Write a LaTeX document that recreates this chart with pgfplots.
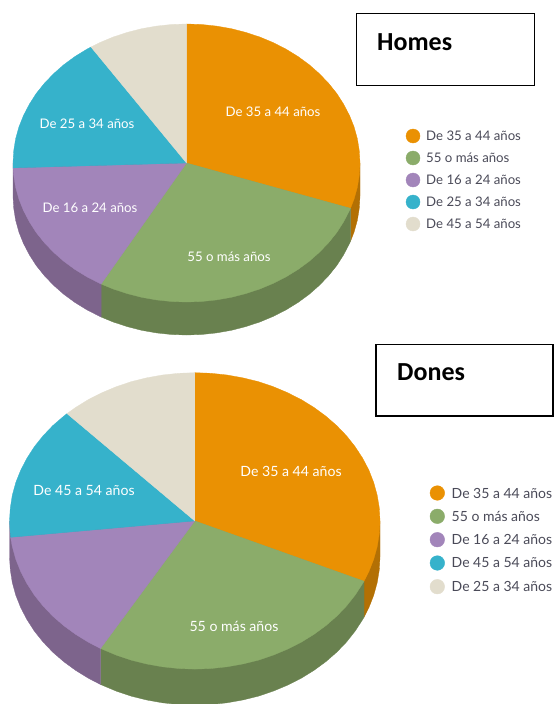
\documentclass[border=0pt]{standalone}
\usepackage{fontspec}
\setmainfont{Lato}
\newfontfamily\titlefont{Carlito}
\usepackage{pgfplots}
\pgfplotsset{compat=1.18}
\definecolor{naranja}{HTML}{EA9103}
\definecolor{verde}{HTML}{8BAC6A}
\definecolor{lila}{HTML}{A285BA}
\definecolor{cian}{HTML}{36B2CB}
\definecolor{beis}{HTML}{E2DDCD}
\definecolor{naranjaos}{HTML}{B37004}
\definecolor{verdeos}{HTML}{69814F}
\definecolor{lilaos}{HTML}{7D648C}
\definecolor{leyenda}{HTML}{4A4A58}

\newcommand{\etq}[4]{\node[text=white,font=\fontsize{#1}{14}\selectfont,inner sep=0pt] at (axis cs:#2,#3) {#4};}
\newcommand{\leytxt}[4]{\node[text=leyenda,anchor=west,font=\fontsize{#1}{14}\selectfont,inner sep=0pt] at (axis cs:#2,#3) {#4};}

\begin{document}
\begin{tikzpicture}
\begin{axis}[
  hide axis,
  scale only axis,
  width=554pt, height=704pt,
  xmin=0, xmax=554, ymin=0, ymax=704,
  y dir=reverse,
]
% hidden axis adds nothing to the page size, so keep the corners in
\path (axis cs:0,0) rectangle (axis cs:554,704);
% Homes: side walls
\addplot[fill=naranjaos,draw=naranjaos,line width=0.3pt] coordinates {(360,196)(359.3,208.1)(357.4,220.1)(354.1,232)(350.5,241.3)(350.5,208.3)(186.5,163)(360,163)} --cycle;
\addplot[fill=verdeos,draw=verdeos,line width=0.3pt] coordinates {(350.5,241.3)(349.5,243.5)(343.7,254.7)(336.8,265.5)(328.6,275.7)(319.4,285.3)(309.2,294.3)(298,302.5)(286,309.9)(273.2,316.4)(259.8,322)(245.8,326.6)(231.4,330.3)(216.6,332.9)(201.6,334.5)(186.5,335)(171.4,334.5)(156.4,332.9)(141.6,330.3)(127.2,326.6)(113.2,322)(101.1,317)(101.1,284)(186.5,163)(350.5,208.3)} --cycle;
\addplot[fill=lilaos,draw=lilaos,line width=0.3pt] coordinates {(101.1,317)(99.8,316.4)(87,309.9)(75,302.5)(63.8,294.3)(53.6,285.3)(44.4,275.7)(36.2,265.5)(29.3,254.7)(23.5,243.5)(18.9,232)(15.6,220.1)(13.7,208.1)(13,196)(13,163)(186.5,163)(101.1,284)} --cycle;
% Homes: top face
\addplot[fill=naranja,draw=naranja,line width=0.3pt] coordinates {(186.5,163)(186.5,24)(201.6,24.5)(216.6,26.1)(231.4,28.7)(245.8,32.4)(259.8,37)(273.2,42.6)(286,49.1)(298,56.5)(309.2,64.7)(319.4,73.7)(328.6,83.3)(336.8,93.5)(343.7,104.3)(349.5,115.5)(354.1,127)(357.4,138.9)(359.3,150.9)(360,163)(359.3,175.1)(357.4,187.1)(354.1,199)(350.5,208.3)} --cycle;
\addplot[fill=verde,draw=verde,line width=0.3pt] coordinates {(186.5,163)(350.5,208.3)(349.5,210.5)(343.7,221.7)(336.8,232.5)(328.6,242.7)(319.4,252.3)(309.2,261.3)(298,269.5)(286,276.9)(273.2,283.4)(259.8,289)(245.8,293.6)(231.4,297.3)(216.6,299.9)(201.6,301.5)(186.5,302)(171.4,301.5)(156.4,299.9)(141.6,297.3)(127.2,293.6)(113.2,289)(101.1,284)} --cycle;
\addplot[fill=lila,draw=lila,line width=0.3pt] coordinates {(186.5,163)(101.1,284)(99.8,283.4)(87,276.9)(75,269.5)(63.8,261.3)(53.6,252.3)(44.4,242.7)(36.2,232.5)(29.3,221.7)(23.5,210.5)(18.9,199)(15.6,187.1)(13.7,175.1)(13.1,167.9)} --cycle;
\addplot[fill=cian,draw=cian,line width=0.3pt] coordinates {(186.5,163)(13.1,167.9)(13,163)(13.7,150.9)(15.6,138.9)(18.9,127)(23.5,115.5)(29.3,104.3)(36.2,93.5)(44.4,83.3)(53.6,73.7)(63.8,64.7)(75,56.5)(87,49.1)(91,47)} --cycle;
\addplot[fill=beis,draw=beis,line width=0.3pt] coordinates {(186.5,163)(91,47)(99.8,42.6)(113.2,37)(127.2,32.4)(141.6,28.7)(156.4,26.1)(171.4,24.5)(186.5,24)} --cycle;

% Dones: side walls
\addplot[fill=naranjaos,draw=naranjaos,line width=0.3pt] coordinates {(380,556.9)(379.3,569.8)(377.2,582.6)(373.7,595.3)(368.9,607.6)(364,617.2)(364,581.2)(194.75,520.9)(380,520.9)} --cycle;
\addplot[fill=verdeos,draw=verdeos,line width=0.3pt] coordinates {(364,617.2)(362.7,619.5)(355.2,631)(346.6,641.9)(336.7,652.2)(325.8,661.7)(313.9,670.4)(301.1,678.3)(287.4,685.2)(273.1,691.2)(258.2,696.2)(242.7,700)(227,702.8)(211,704.5)(194.8,705.1)(178.6,704.5)(162.5,702.8)(146.8,700)(131.4,696.2)(116.5,691.2)(102.2,685.2)(100.5,684.5)(100.5,648.5)(194.75,520.9)(364,581.2)} --cycle;
\addplot[fill=lilaos,draw=lilaos,line width=0.3pt] coordinates {(100.5,684.5)(88.5,678.3)(75.7,670.4)(63.8,661.7)(52.8,652.2)(43,641.9)(34.3,631)(26.9,619.5)(20.7,607.6)(15.8,595.3)(12.3,582.6)(10.3,569.8)(9.5,556.9)(9.5,520.9)(194.75,520.9)(100.5,648.5)} --cycle;
% Dones: top face
\addplot[fill=naranja,draw=naranja,line width=0.3pt] coordinates {(194.75,520.9)(194.8,372.7)(211,373.3)(227,375)(242.7,377.8)(258.2,381.6)(273.1,386.6)(287.4,392.6)(301.1,399.5)(313.9,407.4)(325.8,416.1)(336.7,425.6)(346.6,435.9)(355.2,446.8)(362.7,458.3)(368.9,470.2)(373.7,482.5)(377.2,495.2)(379.3,508)(380,520.9)(379.3,533.8)(377.2,546.6)(373.7,559.3)(368.9,571.6)(364,581.2)} --cycle;
\addplot[fill=verde,draw=verde,line width=0.3pt] coordinates {(194.75,520.9)(364,581.2)(362.7,583.5)(355.2,595)(346.6,605.9)(336.7,616.2)(325.8,625.7)(313.9,634.4)(301.1,642.3)(287.4,649.2)(273.1,655.2)(258.2,660.2)(242.7,664)(227,666.8)(211,668.5)(194.8,669.1)(178.6,668.5)(162.5,666.8)(146.8,664)(131.4,660.2)(116.5,655.2)(102.2,649.2)(100.5,648.5)} --cycle;
\addplot[fill=lila,draw=lila,line width=0.3pt] coordinates {(194.75,520.9)(100.5,648.5)(88.5,642.3)(75.7,634.4)(63.8,625.7)(52.8,616.2)(43,605.9)(34.3,595)(26.9,583.5)(20.7,571.6)(15.8,559.3)(12.3,546.6)(10.6,537.3)} --cycle;
\addplot[fill=cian,draw=cian,line width=0.3pt] coordinates {(194.75,520.9)(10.6,537.3)(10.3,533.8)(9.5,520.9)(10.3,508)(12.3,495.2)(15.8,482.5)(20.7,470.2)(26.9,458.3)(34.3,446.8)(43,435.9)(52.8,425.6)(63.8,416.1)(67,413.6)} --cycle;
\addplot[fill=beis,draw=beis,line width=0.3pt] coordinates {(194.75,520.9)(67,413.6)(75.7,407.4)(88.5,399.5)(102.2,392.6)(116.5,386.6)(131.4,381.6)(146.8,377.8)(162.5,375)(178.6,373.3)(194.8,372.7)} --cycle;

% title boxes
\addplot[draw=black,line width=1.6pt] coordinates {(356.5,13.5)(534.5,13.5)(534.5,85.5)(356.5,85.5)} --cycle;
\addplot[draw=black,line width=1.6pt] coordinates {(375.8,344.5)(553,344.5)(553,415.8)(375.8,415.8)} --cycle;
\node[anchor=base west,inner sep=0pt,font=\titlefont\bfseries\fontsize{26}{28}\selectfont] at (axis cs:377,50.5) {Homes};
\node[anchor=base west,inner sep=0pt,font=\titlefont\bfseries\fontsize{26}{28}\selectfont] at (axis cs:397,380) {Dones};

% legend dots
\addplot[only marks,mark=*,mark size=7,color=naranja] coordinates {(413,136)};
\addplot[only marks,mark=*,mark size=7,color=verde] coordinates {(413,158)};
\addplot[only marks,mark=*,mark size=7,color=lila] coordinates {(413,180)};
\addplot[only marks,mark=*,mark size=7,color=cian] coordinates {(413,202)};
\addplot[only marks,mark=*,mark size=7,color=beis] coordinates {(413,224)};
\addplot[only marks,mark=*,mark size=7.3,color=naranja] coordinates {(437.3,493)};
\addplot[only marks,mark=*,mark size=7.3,color=verde] coordinates {(437.3,516.3)};
\addplot[only marks,mark=*,mark size=7.3,color=lila] coordinates {(437.3,539.7)};
\addplot[only marks,mark=*,mark size=7.3,color=cian] coordinates {(437.3,563)};
\addplot[only marks,mark=*,mark size=7.3,color=beis] coordinates {(437.3,586.7)};

\leytxt{13.2}{426}{136}{De 35 a 44 años}
\leytxt{13.2}{426}{158}{55 o más años}
\leytxt{13.2}{426}{180}{De 16 a 24 años}
\leytxt{13.2}{426}{202}{De 25 a 34 años}
\leytxt{13.2}{426}{224}{De 45 a 54 años}
\leytxt{14}{451.5}{493}{De 35 a 44 años}
\leytxt{14}{451.5}{516.3}{55 o más años}
\leytxt{14}{451.5}{539.7}{De 16 a 24 años}
\leytxt{14}{451.5}{563}{De 45 a 54 años}
\leytxt{14}{451.5}{586.7}{De 25 a 34 años}

\etq{13.2}{273}{112}{De 35 a 44 años}
\etq{13.2}{87}{124}{De 25 a 34 años}
\etq{13.2}{90}{208}{De 16 a 24 años}
\etq{13.2}{229}{257}{55 o más años}
\etq{14.1}{291}{471}{De 35 a 44 años}
\etq{14.1}{84}{490.5}{De 45 a 54 años}
\etq{14.1}{234}{626}{55 o más años}
\end{axis}
\end{tikzpicture}
\end{document}
